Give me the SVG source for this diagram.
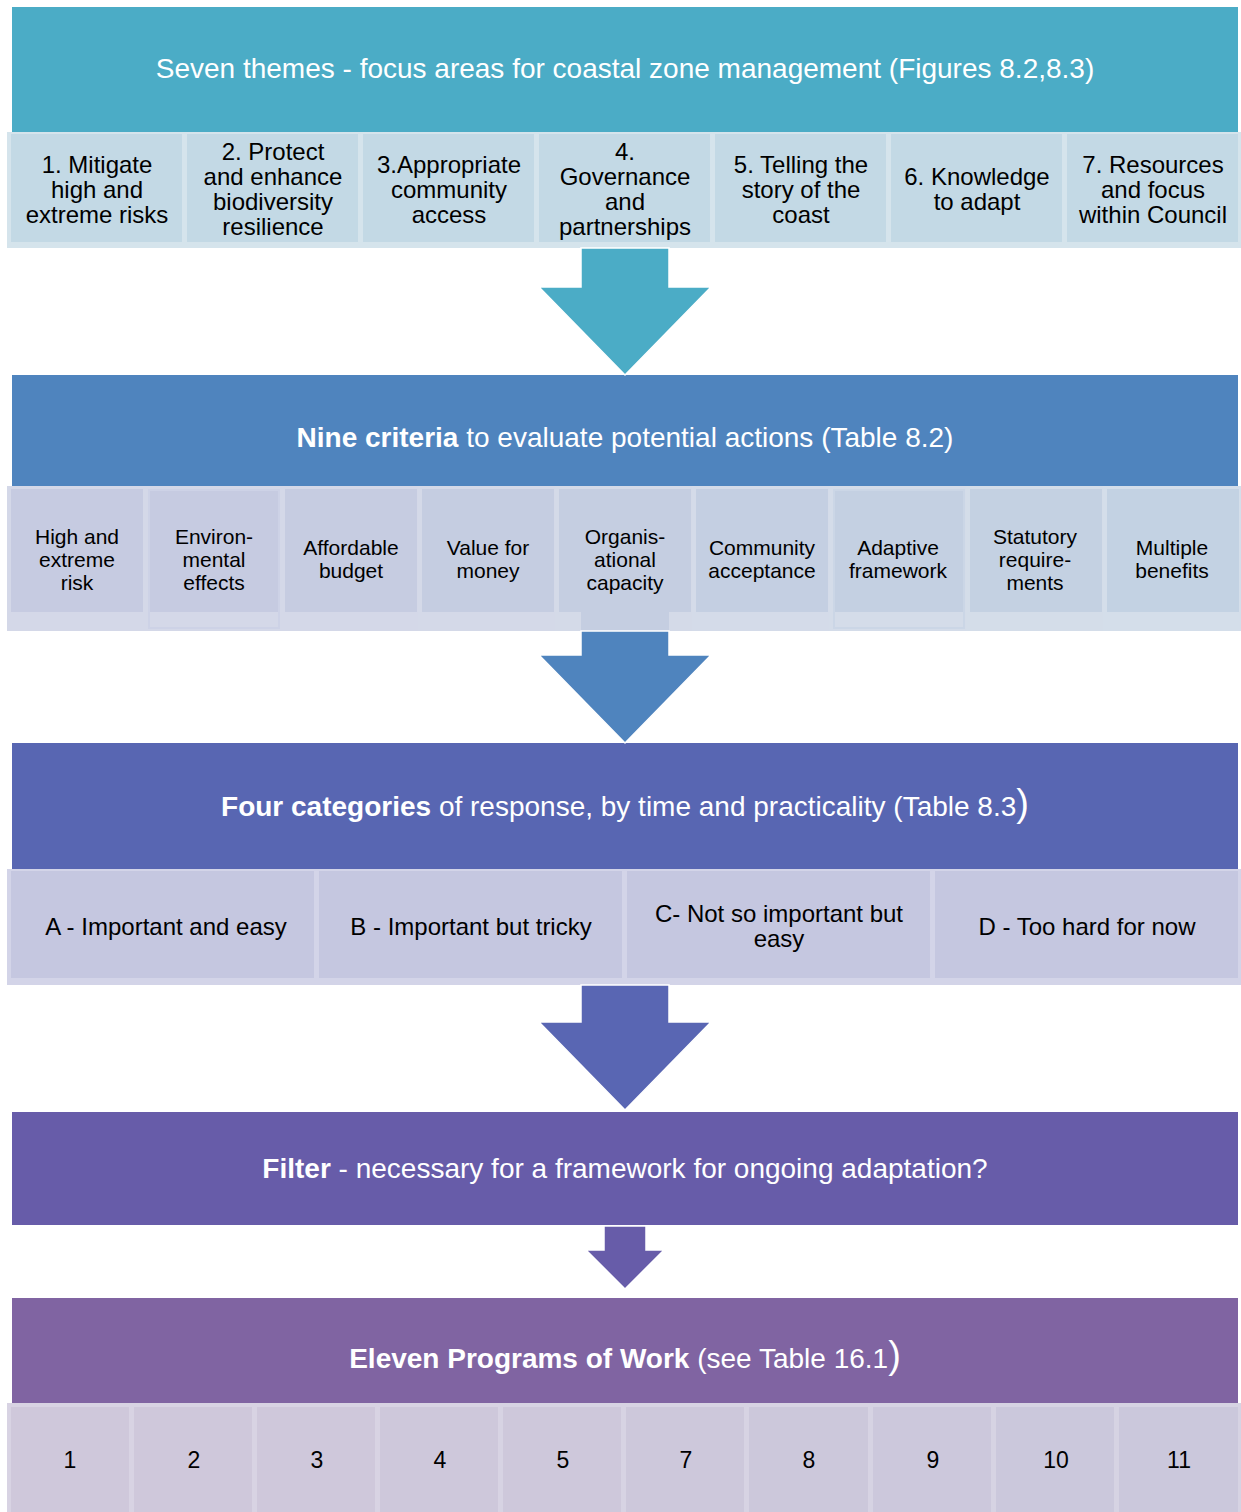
<svg xmlns="http://www.w3.org/2000/svg" width="1241" height="1512" viewBox="0 0 1241 1512">
  <style>
    text { font-family: "Liberation Sans", Arial, sans-serif; text-anchor: middle; }
    .hd { fill: #ffffff; font-size: 28px; }
    .b { font-weight: bold; }
    .c1 { fill: #000000; font-size: 24px; }
    .c2 { fill: #000000; font-size: 21px; }
    .c3 { fill: #000000; font-size: 24px; }
    .c5 { fill: #000000; font-size: 23px; }
    .arrow { stroke: #ffffff; stroke-width: 1.5; stroke-linejoin: miter; }
  </style>
  <rect width="1241" height="1512" fill="#ffffff"/>

  <!-- Stage 1: seven themes -->
  <g id="themes">
    <rect x="12" y="7" width="1226" height="125" fill="#4BACC6"/>
    <text class="hd" x="625" y="78">Seven themes - focus areas for coastal zone management (Figures 8.2,8.3)</text>
  </g>
  <g id="theme-cells">
    <g id="theme-1"><rect x="7" y="132" width="177" height="116" fill="#D5E4EC"/><rect x="11" y="134" width="171" height="108" fill="#C3D9E5"/>
      <text class="c1"><tspan x="97" y="173">1. Mitigate</tspan><tspan x="97" y="198">high and</tspan><tspan x="97" y="223">extreme risks</tspan></text></g>
    <g id="theme-2"><rect x="183" y="132" width="177" height="116" fill="#D5E4EC"/><rect x="187" y="134" width="171" height="108" fill="#C3D9E5"/>
      <text class="c1"><tspan x="273" y="160">2. Protect</tspan><tspan x="273" y="185">and enhance</tspan><tspan x="273" y="210">biodiversity</tspan><tspan x="273" y="235">resilience</tspan></text></g>
    <g id="theme-3"><rect x="359" y="132" width="177" height="116" fill="#D5E4EC"/><rect x="363" y="134" width="171" height="108" fill="#C3D9E5"/>
      <text class="c1"><tspan x="449" y="173">3.Appropriate</tspan><tspan x="449" y="198">community</tspan><tspan x="449" y="223">access</tspan></text></g>
    <g id="theme-4"><rect x="535" y="132" width="177" height="116" fill="#D5E4EC"/><rect x="539" y="134" width="171" height="108" fill="#C3D9E5"/>
      <text class="c1"><tspan x="625" y="160">4.</tspan><tspan x="625" y="185">Governance</tspan><tspan x="625" y="210">and</tspan><tspan x="625" y="235">partnerships</tspan></text></g>
    <g id="theme-5"><rect x="711" y="132" width="177" height="116" fill="#D5E4EC"/><rect x="715" y="134" width="171" height="108" fill="#C3D9E5"/>
      <text class="c1"><tspan x="801" y="173">5. Telling the</tspan><tspan x="801" y="198">story of the</tspan><tspan x="801" y="223">coast</tspan></text></g>
    <g id="theme-6"><rect x="887" y="132" width="177" height="116" fill="#D5E4EC"/><rect x="891" y="134" width="171" height="108" fill="#C3D9E5"/>
      <text class="c1"><tspan x="977" y="185">6. Knowledge</tspan><tspan x="977" y="210">to adapt</tspan></text></g>
    <g id="theme-7"><rect x="1063" y="132" width="178" height="116" fill="#D5E4EC"/><rect x="1067" y="134" width="171" height="108" fill="#C3D9E5"/>
      <text class="c1"><tspan x="1153" y="173">7. Resources</tspan><tspan x="1153" y="198">and focus</tspan><tspan x="1153" y="223">within Council</tspan></text></g>
  </g>

  <!-- Stage 2: nine criteria -->
  <g id="criteria">
    <rect x="12" y="375" width="1226" height="111" fill="#4F84BE"/>
    <text class="hd" x="625" y="447"><tspan class="b">Nine criteria</tspan> to evaluate potential actions (Table 8.2)</text>
  </g>
  <g id="criteria-cells">
    <g id="crit-1"><rect x="7" y="486" width="138" height="145" fill="#D4D8E8"/><rect x="11" y="489" width="132" height="123" fill="#C6CBE1"/>
      <text class="c2"><tspan x="77" y="544">High and</tspan><tspan x="77" y="567">extreme</tspan><tspan x="77" y="590">risk</tspan></text></g>
    <g id="crit-2"><rect x="144" y="486" width="138" height="145" fill="#D4D8E8"/><rect x="148" y="489" width="132" height="123" fill="#C6CBE1"/>
      <rect x="149" y="490" width="130" height="138" fill="none" stroke="#CDD2E6" stroke-width="2"/>
      <text class="c2"><tspan x="214" y="544">Environ-</tspan><tspan x="214" y="567">mental</tspan><tspan x="214" y="590">effects</tspan></text></g>
    <g id="crit-3"><rect x="281" y="486" width="138" height="145" fill="#D4D8E8"/><rect x="285" y="489" width="132" height="123" fill="#C6CCE1"/>
      <text class="c2"><tspan x="351" y="555">Affordable</tspan><tspan x="351" y="578">budget</tspan></text></g>
    <g id="crit-4"><rect x="418" y="486" width="138" height="145" fill="#D4D9E8"/><rect x="422" y="489" width="132" height="123" fill="#C5CDE1"/>
      <text class="c2"><tspan x="488" y="555">Value for</tspan><tspan x="488" y="578">money</tspan></text></g>
    <g id="crit-5"><rect x="555" y="486" width="138" height="145" fill="#D4DAE8"/><rect x="559" y="489" width="132" height="123" fill="#C5CEE1"/>
      <rect x="581" y="611" width="88" height="20" fill="#C5CEE1"/>
      <text class="c2"><tspan x="625" y="544">Organis-</tspan><tspan x="625" y="567">ational</tspan><tspan x="625" y="590">capacity</tspan></text></g>
    <g id="crit-6"><rect x="692" y="486" width="138" height="145" fill="#D4DBE9"/><rect x="696" y="489" width="132" height="123" fill="#C4CFE2"/>
      <text class="c2"><tspan x="762" y="555">Community</tspan><tspan x="762" y="578">acceptance</tspan></text></g>
    <g id="crit-7"><rect x="829" y="486" width="138" height="145" fill="#D4DCE9"/><rect x="833" y="489" width="132" height="123" fill="#C4D0E2"/>
      <rect x="834" y="490" width="130" height="138" fill="none" stroke="#CBD6E6" stroke-width="2"/>
      <text class="c2"><tspan x="898" y="555">Adaptive</tspan><tspan x="898" y="578">framework</tspan></text></g>
    <g id="crit-8"><rect x="966" y="486" width="138" height="145" fill="#D4DDE9"/><rect x="970" y="489" width="132" height="123" fill="#C4D1E2"/>
      <text class="c2"><tspan x="1035" y="544">Statutory</tspan><tspan x="1035" y="567">require-</tspan><tspan x="1035" y="590">ments</tspan></text></g>
    <g id="crit-9"><rect x="1103" y="486" width="138" height="145" fill="#D4DEEA"/><rect x="1107" y="489" width="132" height="123" fill="#C3D2E3"/>
      <text class="c2"><tspan x="1172" y="555">Multiple</tspan><tspan x="1172" y="578">benefits</tspan></text></g>
  </g>

  <!-- Stage 3: four categories -->
  <g id="categories">
    <rect x="12" y="743" width="1226" height="126" fill="#5866B2"/>
    <text class="hd" x="625" y="816"><tspan class="b">Four categories</tspan> of response, by time and practicality (Table 8.3<tspan font-size="38px">)</tspan></text>
  </g>
  <g id="category-cells">
    <g id="cat-a"><rect x="7" y="869" width="309" height="116" fill="#D3D4E8"/><rect x="11" y="871" width="303" height="107" fill="#C5C7E0"/>
      <text class="c3" x="166" y="935">A - Important and easy</text></g>
    <g id="cat-b"><rect x="315" y="869" width="309" height="116" fill="#D3D4E8"/><rect x="319" y="871" width="303" height="107" fill="#C5C7E0"/>
      <text class="c3" x="471" y="935">B - Important but tricky</text></g>
    <g id="cat-c"><rect x="623" y="869" width="309" height="116" fill="#D3D4E8"/><rect x="627" y="871" width="303" height="107" fill="#C5C7E0"/>
      <text class="c3"><tspan x="779" y="922">C- Not so important but</tspan><tspan x="779" y="947">easy</tspan></text></g>
    <g id="cat-d"><rect x="931" y="869" width="310" height="116" fill="#D3D4E8"/><rect x="935" y="871" width="303" height="107" fill="#C5C7E0"/>
      <text class="c3" x="1087" y="935">D - Too hard for now</text></g>
  </g>

  <!-- Stage 4: filter -->
  <g id="filter">
    <rect x="12" y="1112" width="1226" height="113" fill="#675CA9"/>
    <text class="hd" x="625" y="1178"><tspan class="b">Filter</tspan> - necessary for a framework for ongoing adaptation?</text>
  </g>

  <!-- Stage 5: eleven programs -->
  <g id="programs">
    <rect x="12" y="1298" width="1226" height="105" fill="#8064A2"/>
    <text class="hd" x="625" y="1368"><tspan class="b">Eleven Programs of Work</tspan> (see Table 16.1<tspan font-size="38px">)</tspan></text>
  </g>
  <g id="program-cells">
    <g id="prog-1"><rect x="7" y="1403" width="124" height="109" fill="#D8D3E3"/><rect x="11" y="1407" width="118" height="105" fill="#CFC8DB"/><text class="c5" x="70" y="1468">1</text></g>
    <g id="prog-2"><rect x="130" y="1403" width="124" height="109" fill="#D8D3E3"/><rect x="134" y="1407" width="118" height="105" fill="#CFC8DB"/><text class="c5" x="194" y="1468">2</text></g>
    <g id="prog-3"><rect x="253" y="1403" width="124" height="109" fill="#D8D3E3"/><rect x="257" y="1407" width="118" height="105" fill="#CFC8DB"/><text class="c5" x="317" y="1468">3</text></g>
    <g id="prog-4"><rect x="376" y="1403" width="124" height="109" fill="#D8D3E3"/><rect x="380" y="1407" width="118" height="105" fill="#CEC8DB"/><text class="c5" x="440" y="1468">4</text></g>
    <g id="prog-5"><rect x="499" y="1403" width="124" height="109" fill="#D7D3E3"/><rect x="503" y="1407" width="118" height="105" fill="#CEC8DB"/><text class="c5" x="563" y="1468">5</text></g>
    <g id="prog-7"><rect x="622" y="1403" width="124" height="109" fill="#D7D3E3"/><rect x="626" y="1407" width="118" height="105" fill="#CDC8DB"/><text class="c5" x="686" y="1468">7</text></g>
    <g id="prog-8"><rect x="745" y="1403" width="125" height="109" fill="#D7D3E3"/><rect x="749" y="1407" width="119" height="105" fill="#CCC8DB"/><text class="c5" x="809" y="1468">8</text></g>
    <g id="prog-9"><rect x="869" y="1403" width="124" height="109" fill="#D6D3E3"/><rect x="873" y="1407" width="118" height="105" fill="#CCC8DC"/><text class="c5" x="933" y="1468">9</text></g>
    <g id="prog-10"><rect x="992" y="1403" width="124" height="109" fill="#D6D3E3"/><rect x="996" y="1407" width="118" height="105" fill="#CBC8DC"/><text class="c5" x="1056" y="1468">10</text></g>
    <g id="prog-11"><rect x="1115" y="1403" width="126" height="109" fill="#D6D3E3"/><rect x="1119" y="1407" width="119" height="105" fill="#CBC8DC"/><text class="c5" x="1179" y="1468">11</text></g>
  </g>

  <!-- Block arrows between stages -->
  <g id="connectors">
    <path class="arrow" fill="#4BACC6" d="M581,248 L669,248 L669,287 L711,287 L625,375 L539,287 L581,287 Z"/>
    <path class="arrow" fill="#4F84BE" d="M581,631 L669,631 L669,655 L711,655 L625,743 L539,655 L581,655 Z"/>
    <path class="arrow" fill="#5966B3" d="M581,985 L669,985 L669,1022 L711,1022 L625,1110 L539,1022 L581,1022 Z"/>
    <path class="arrow" fill="#675CA9" d="M604,1226 L646,1226 L646,1250 L664,1250 L625,1289 L586,1250 L604,1250 Z"/>
  </g>
</svg>
